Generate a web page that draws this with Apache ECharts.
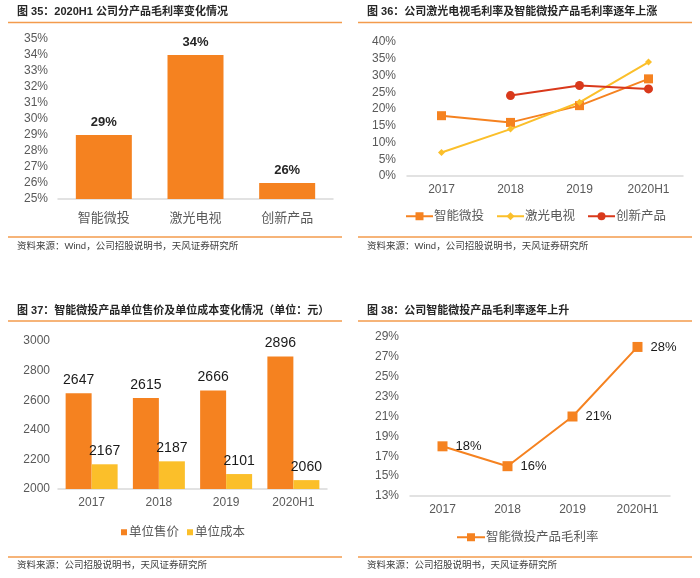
<!DOCTYPE html>
<html>
<head>
<meta charset="utf-8">
<script src="https://cdn.jsdelivr.net/npm/echarts@6/dist/echarts.min.js"></script>
<style>
html,body{margin:0;padding:0;background:#fff;}
#c{width:700px;height:578px;}
</style>
</head>
<body>
<div id="c"></div>
<script>
// Panel 35
const p1Categories = ['智能微投', '激光电视', '创新产品'];
const p1Values = [29, 34, 26];
// Panel 36
const p2Categories = ['2017', '2018', '2019', '2020H1'];
const p2Projector = [18, 16, 21, 29];
const p2LaserTV = [7, 14, 22, 34];
const p2Innovative = [null, 24, 27, 26];
// Panel 37
const p3Categories = ['2017', '2018', '2019', '2020H1'];
const p3Price = [2647, 2615, 2666, 2896];
const p3Cost = [2167, 2187, 2101, 2060];
// Panel 38
const p4Categories = ['2017', '2018', '2019', '2020H1'];
const p4Margin = [18, 16, 21, 28];

const titles = [
  {text: '图 35：2020H1 公司分产品毛利率变化情况', x: 17, y: 13},
  {text: '图 36：公司激光电视毛利率及智能微投产品毛利率逐年上涨', x: 367, y: 13},
  {text: '图 37：智能微投产品单位售价及单位成本变化情况（单位：元）', x: 17, y: 312},
  {text: '图 38：公司智能微投产品毛利率逐年上升', x: 367, y: 312}
];
const sources = [
  {text: '资料来源：Wind，公司招股说明书，天风证券研究所', x: 17, y: 248},
  {text: '资料来源：Wind，公司招股说明书，天风证券研究所', x: 367, y: 248},
  {text: '资料来源：公司招股说明书，天风证券研究所', x: 17, y: 567},
  {text: '资料来源：公司招股说明书，天风证券研究所', x: 367, y: 567}
];
const rules = [
  {x1: 8, x2: 342, y: 22.5}, {x1: 358, x2: 692, y: 22.5},
  {x1: 8, x2: 342, y: 321}, {x1: 358, x2: 692, y: 321},
  {x1: 8, x2: 342, y: 237}, {x1: 358, x2: 692, y: 237},
  {x1: 8, x2: 342, y: 557}, {x1: 358, x2: 692, y: 557}
];

const FONT = '"Liberation Sans", Arial, "Noto Sans CJK SC", sans-serif';
const ORANGE = '#F58220';
const YELLOW = '#FBBF2A';
const RED = '#D9391B';
const GRAY = '#595959';
const AXIS = '#D9D9D9';

const graphics = [];
titles.forEach(t => graphics.push({type: 'text', left: t.x, top: t.y - 7, style: {text: t.text, font: 'bold 11px ' + FONT, fill: '#262626'}}));
sources.forEach(t => graphics.push({type: 'text', left: t.x, top: t.y - 6, style: {text: t.text, font: '9.5px ' + FONT, fill: '#404040'}}));
rules.forEach(r => graphics.push({type: 'line', shape: {x1: r.x1, y1: r.y, x2: r.x2, y2: r.y}, style: {stroke: '#F39B4C', lineWidth: 1.5}}));

function yAx(gi, min, max, interval, fmt, margin) {
  return {
    type: 'value', gridIndex: gi, min: min, max: max, interval: interval,
    axisLine: {show: false}, axisTick: {show: false}, splitLine: {show: false},
    axisLabel: {color: GRAY, fontSize: 12, fontFamily: FONT, margin: margin, formatter: fmt}
  };
}
function xAx(gi, data, margin, fs) {
  return {
    type: 'category', gridIndex: gi, data: data,
    axisLine: {lineStyle: {color: AXIS, width: 1.5}}, axisTick: {show: false},
    axisLabel: {color: GRAY, fontSize: fs, fontFamily: FONT, margin: margin}
  };
}

const option = {
  animation: false,
  textStyle: {fontFamily: FONT},
  graphic: graphics,
  grid: [
    {left: 58, right: 367, top: 39, bottom: 379},
    {left: 407, right: 17, top: 42, bottom: 402},
    {left: 58, right: 373, top: 341, bottom: 89},
    {left: 410, right: 30, top: 337, bottom: 82}
  ],
  xAxis: [
    xAx(0, p1Categories, 13, 13),
    xAx(1, p2Categories, 8, 12),
    xAx(2, p3Categories, 8, 12),
    xAx(3, p4Categories, 8, 12)
  ],
  yAxis: [
    yAx(0, 25, 35, 1, v => v + '%', 10),
    yAx(1, 0, 40, 5, v => v + '%', 11),
    yAx(2, 2000, 3000, 200, v => String(v), 8),
    yAx(3, 13, 29, 2, v => v + '%', 11)
  ],
  legend: [
    {left: 405, top: 210, padding: 0, itemWidth: 27, itemHeight: 10, itemGap: 12,
     textStyle: {color: GRAY, fontSize: 12.5, fontFamily: FONT, padding: [0, 0, 0, -4]},
     data: ['智能微投', '激光电视', '创新产品']},
    {left: 121, top: 526, padding: 0, itemWidth: 6, itemHeight: 6, itemGap: 8,
     textStyle: {color: GRAY, fontSize: 12.5, fontFamily: FONT, padding: [0, 0, 0, -3]},
     data: [{name: '单位售价', icon: 'rect'}, {name: '单位成本', icon: 'rect'}]},
    {left: 456, top: 531, padding: 0, itemWidth: 28, itemHeight: 10,
     textStyle: {color: GRAY, fontSize: 12.5, fontFamily: FONT, padding: [0, 0, 0, -4]},
     data: ['智能微投产品毛利率']}
  ],
  series: [
    {type: 'bar', name: 'p1', xAxisIndex: 0, yAxisIndex: 0, data: p1Values, barWidth: 56,
     itemStyle: {color: ORANGE},
     label: {show: true, position: 'top', distance: 6, formatter: '{c}%', color: '#262626', fontSize: 13, fontWeight: 'bold', fontFamily: FONT}},

    {type: 'line', name: '智能微投', xAxisIndex: 1, yAxisIndex: 1, data: p2Projector,
     symbol: 'rect', symbolSize: 9, lineStyle: {color: ORANGE, width: 2}, itemStyle: {color: ORANGE}},
    {type: 'line', name: '激光电视', xAxisIndex: 1, yAxisIndex: 1, data: p2LaserTV,
     symbol: 'diamond', symbolSize: 7, lineStyle: {color: YELLOW, width: 2}, itemStyle: {color: YELLOW}},
    {type: 'line', name: '创新产品', xAxisIndex: 1, yAxisIndex: 1, data: p2Innovative,
     symbol: 'circle', symbolSize: 9, lineStyle: {color: RED, width: 2}, itemStyle: {color: RED}},

    {type: 'bar', name: '单位售价', xAxisIndex: 2, yAxisIndex: 2, data: p3Price, barWidth: 26, barGap: '0%',
     itemStyle: {color: ORANGE},
     label: {show: true, position: 'top', distance: 6, color: '#1a1a1a', fontSize: 14, fontFamily: FONT}},
    {type: 'bar', name: '单位成本', xAxisIndex: 2, yAxisIndex: 2, data: p3Cost, barWidth: 26, barGap: '0%',
     itemStyle: {color: YELLOW},
     label: {show: true, position: 'top', distance: 6, color: '#1a1a1a', fontSize: 14, fontFamily: FONT}},

    {type: 'line', name: '智能微投产品毛利率', xAxisIndex: 3, yAxisIndex: 3, data: p4Margin,
     symbol: 'rect', symbolSize: 10, lineStyle: {color: ORANGE, width: 2}, itemStyle: {color: ORANGE},
     label: {show: true, position: 'right', distance: 8, formatter: '{c}%', color: '#1a1a1a', fontSize: 13, fontFamily: FONT}}
  ]
};

const chart = echarts.init(document.getElementById('c'));
chart.setOption(option);
</script>
</body>
</html>
